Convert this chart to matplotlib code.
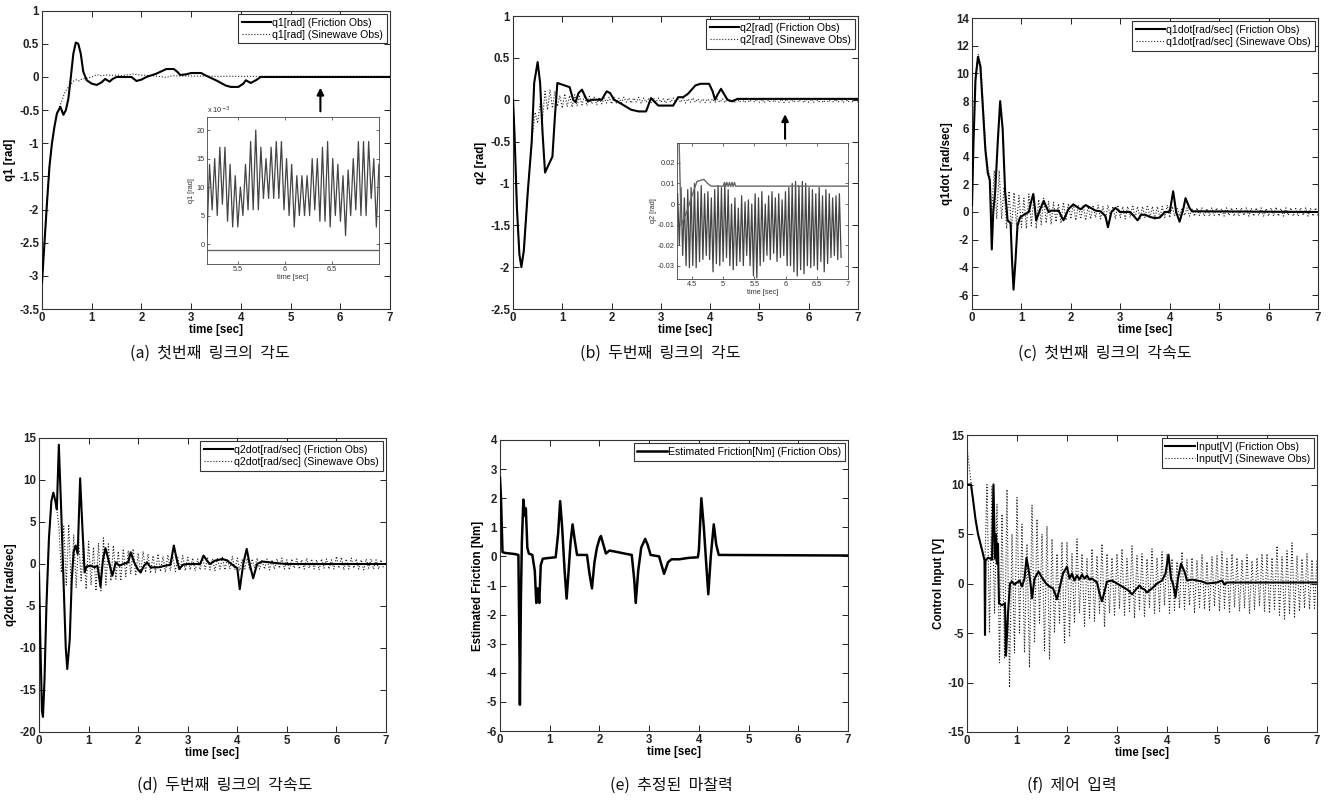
import numpy as np
import matplotlib
matplotlib.use('Agg')
import matplotlib.pyplot as plt
from matplotlib.ticker import FuncFormatter

plt.rcParams['font.family'] = ['Liberation Sans', 'DejaVu Sans']
plt.rcParams['axes.unicode_minus'] = False

# ---------------- data ----------------
# (a) q1
q1_fr_t = [0, 0.05, 0.1, 0.15, 0.2, 0.25, 0.3, 0.37, 0.43, 0.48, 0.53, 0.58, 0.63, 0.68, 0.73, 0.78, 0.83,
           0.9, 1.0, 1.1, 1.2, 1.27, 1.36, 1.42, 1.5, 1.8, 1.9, 2.0, 2.1, 2.3, 2.5, 2.65, 2.72, 2.78, 2.9,
           3.0, 3.2, 3.3, 3.5, 3.7, 3.8, 3.95, 4.05, 4.1, 4.2, 4.3, 4.4, 7.0]
q1_fr_v = [-3.1, -2.5, -1.9, -1.35, -1.0, -0.75, -0.55, -0.45, -0.57, -0.5, -0.33, 0.0, 0.35, 0.52, 0.5, 0.35,
           0.08, -0.05, -0.1, -0.12, -0.08, -0.03, -0.07, -0.03, 0.0, 0.0, -0.06, -0.04, 0.0, 0.05, 0.12,
           0.12, 0.08, 0.03, 0.04, 0.06, 0.06, 0.02, -0.05, -0.13, -0.15, -0.15, -0.1, -0.05, -0.09, -0.05,
           0.0, 0.0]
q1_sw_t = [0, 0.05, 0.1, 0.15, 0.2, 0.25, 0.3, 0.35, 0.4, 0.45, 0.5, 0.56, 0.63, 0.7, 0.75, 0.8, 0.9,
           1.0, 1.1, 1.2, 1.3, 1.4, 1.5, 1.6, 1.7, 1.84, 1.97, 2.2, 2.5, 2.64, 2.8, 3.0, 3.5, 4.0, 5.0,
           6.0, 7.0]
q1_sw_v = [-3.1, -2.5, -1.9, -1.35, -1.0, -0.75, -0.55, -0.45, -0.36, -0.25, -0.18, -0.13, -0.065, -0.04,
           -0.06, -0.03, -0.02, 0.0, 0.035, 0.02, 0.03, 0.025, 0.03, 0.02, 0.03, 0.045, 0.03, 0.02,
           -0.005, 0.02, 0.015, 0.015, 0.01, 0.01, 0.01, 0.01, 0.01]
# (a) inset, x10^-3
q1_in_t0, q1_in_dt = 5.17, 0.0273
q1_in_sw = [1.5, 14, 6, 15, 5, 17, 7, 17, 4, 14, 3, 12, 3, 10, 5, 14, 6, 18, 6, 20, 6, 17, 8, 15, 8, 17,
            8, 18, 8, 18, 6, 15, 5, 14, 3, 12, 5, 12, 5, 12, 5, 15, 6, 15, 4, 17, 4, 18, 3, 15, 5, 14,
            4, 12, 1.5, 13, 5, 15, 6, 18, 5, 18, 5, 18, 8, 15, 3, 14]
q1_in_fr_t = [5.17, 7.0]
q1_in_fr_v = [-1.05, -1.05]

# (b) q2
q2_fr_t = [0, 0.03, 0.08, 0.13, 0.17, 0.22, 0.3, 0.38, 0.43, 0.5, 0.55, 0.6, 0.65, 0.72, 0.8, 0.85, 0.9,
           1.0, 1.15, 1.22, 1.27, 1.33, 1.4, 1.47, 1.52, 1.6, 1.8, 1.9, 1.97, 2.05, 2.2, 2.4, 2.55, 2.7,
           2.8, 2.88, 2.95, 3.1, 3.25, 3.35, 3.45, 3.55, 3.7, 3.8, 3.98, 4.05, 4.1, 4.15, 4.22, 4.3, 4.35,
           4.45, 4.55, 7.0]
q2_fr_v = [0.0, -0.4, -1.3, -1.85, -2.0, -1.8, -1.1, -0.5, 0.2, 0.45, 0.2, -0.4, -0.87, -0.78, -0.68,
           -0.2, 0.2, 0.18, 0.15, 0.0, -0.03, 0.08, 0.12, 0.03, -0.02, 0.0, 0.0, 0.1, 0.08, 0.0, -0.05,
           -0.12, -0.14, -0.14, 0.02, -0.03, -0.07, -0.07, -0.07, 0.03, 0.03, 0.07, 0.17, 0.19, 0.19, 0.1,
           0.0, 0.06, 0.13, 0.05, 0.0, -0.02, 0.01, 0.01]
q2_sw_pre_t = [0, 0.03, 0.08, 0.13, 0.17, 0.22, 0.3, 0.38, 0.42]
q2_sw_pre_v = [0.0, -0.4, -1.3, -1.85, -2.0, -1.8, -1.1, -0.5, -0.3]
q2_sw_t0, q2_sw_dt = 0.45, 0.05
q2_sw_osc = [-0.15, -0.28, -0.05, -0.22, 0.1, -0.12, 0.12, -0.1, 0.1, -0.08,
             0.05, -0.1, 0.07, -0.08, 0.05, -0.09, 0.06, -0.07, 0.04, -0.06,
             0.05, -0.07, 0.04, -0.05, 0.03, -0.06, 0.03, -0.05, 0.02, -0.04,
             0.03, -0.05, 0.03, -0.04, 0.02, -0.04, 0.03, -0.03, 0.02, -0.04,
             0.02, -0.03, 0.03, -0.04, 0.02, -0.03, 0.01, -0.04, 0.02, -0.03,
             0.02, -0.03, 0.01, -0.04, 0.02, -0.03, 0.02, -0.03, 0.01, -0.03,
             0.02, -0.04, 0.01, -0.03, 0.02, -0.03, 0.01, -0.03, 0.01, -0.035,
             0.01, -0.03, 0.01, -0.03, 0.005, -0.03, 0.01, -0.035, 0.01, -0.03,
             0.005, -0.03, 0.01, -0.03, 0.01, -0.035, 0.005, -0.03, 0.01, -0.03,
             0.01, -0.03, 0.005, -0.035, 0.01, -0.03, 0.01, -0.03, 0.005, -0.03,
             0.01, -0.035, 0.01, -0.03, 0.005, -0.03, 0.01, -0.03, 0.01, -0.035,
             0.005, -0.03, 0.01, -0.03, 0.01, -0.03, 0.005, -0.035, 0.01, -0.03,
             0.01, -0.03, 0.005, -0.03, 0.01, -0.035, 0.01, -0.03, 0.005, -0.03,
             0.01, -0.03]
# (b) inset
q2_in_t0, q2_in_dt = 4.27, 0.027
q2_in_sw = [0.005, -0.02, 0.008, -0.025, 0.003, -0.03, 0.007, -0.031, 0.008, -0.03, 0.01, -0.031,
            0.006, -0.028, 0.009, -0.027, 0.005, -0.025, 0.006, -0.027, 0.003, -0.033, 0.007, -0.029,
            0.009, -0.03, 0.008, -0.028, 0.01, -0.026, 0.007, -0.03, 0.0, -0.032, 0.003, -0.03,
            -0.002, -0.028, 0.004, -0.03, 0.001, -0.025, 0.002, -0.03, 0.0, -0.035, 0.005, -0.036,
            0.003, -0.03, 0.006, -0.028, 0.0, -0.025, 0.004, -0.027, 0.006, -0.024, 0.003, -0.028,
            0.005, -0.026, 0.002, -0.025, 0.006, -0.03, 0.008, -0.03, 0.01, -0.033, 0.011, -0.035,
            0.009, -0.032, 0.011, -0.034, 0.01, -0.03, 0.008, -0.031, 0.007, -0.03, 0.005, -0.032,
            0.008, -0.028, 0.004, -0.033, 0.007, -0.029, 0.005, -0.026, 0.003, -0.025, 0.004, -0.027,
            0.005, -0.026]
q2_in_fr_t = [4.29, 4.31, 4.33, 4.42, 4.5, 4.58, 4.69, 4.77, 4.81, 5.0, 5.02, 5.04, 5.06, 5.08, 5.1,
              5.12, 5.14, 5.16, 5.18, 5.2, 7.0]
q2_in_fr_v = [0.035, 0.01, -0.01, -0.0035, 0.004, 0.011, 0.012, 0.0095, 0.0087, 0.0087, 0.0105, 0.0085,
              0.0105, 0.0085, 0.0105, 0.0085, 0.0105, 0.0085, 0.0105, 0.0087, 0.0087]

# (c) q1dot
q1d_fr_t = [0, 0.03, 0.07, 0.12, 0.17, 0.22, 0.27, 0.32, 0.36, 0.38, 0.4, 0.43, 0.47, 0.52, 0.57, 0.62,
            0.67, 0.72, 0.78, 0.81, 0.84, 0.88, 0.92, 0.97, 1.05, 1.15, 1.2, 1.24, 1.3, 1.38, 1.45, 1.55,
            1.6, 1.75, 1.85, 1.95, 2.05, 2.15, 2.2, 2.3, 2.4, 2.5, 2.6, 2.7, 2.75, 2.82, 2.9, 3.0, 3.2,
            3.3, 3.35, 3.42, 3.5, 3.6, 3.7, 3.8, 3.9, 4.0, 4.07, 4.13, 4.2, 4.28, 4.32, 4.4, 4.45, 7.0]
q1d_fr_v = [0.5, 5.0, 9.5, 11.2, 10.5, 7.5, 4.5, 2.8, 2.3, 0.0, -2.7, 0.0, 1.5, 5.0, 8.0, 6.0, 1.5,
            -0.6, -0.8, -3.5, -5.6, -3.5, -1.0, -0.4, -0.2, 0.0, 0.8, 1.3, -0.6, 0.2, 0.8, 0.0, 0.1,
            0.1, -0.6, 0.2, 0.55, 0.3, 0.2, 0.5, 0.3, 0.1, 0.05, -0.3, -1.1, 0.0, 0.3, 0.0, 0.0, -0.4,
            -0.6, -0.2, -0.2, -0.35, -0.45, -0.4, 0.0, 0.0, 1.5, 0.0, -0.7, 0.3, 1.0, 0.3, 0.05, 0.0]
q1d_sw_pre_t = [0, 0.03, 0.07, 0.13, 0.18, 0.23, 0.28, 0.33, 0.36]
q1d_sw_pre_v = [0.5, 5.5, 10.0, 11.4, 10.5, 7.5, 4.5, 3.0, 2.6]
q1d_sw_t0, q1d_sw_dt = 0.40, 0.05
q1d_sw_osc = [0.0, 3.0, -0.5, 3.0, -0.5, 1.8, -1.2, 1.5, -1.3, 1.4,
              -1.0, 1.2, -1.1, 1.0, -1.2, 1.3, -1.0, 1.1, -1.2, 0.9,
              -0.9, 1.0, -0.8, 0.8, -0.9, 0.7, -0.7, 0.6, -0.8, 0.7,
              -0.6, 0.6, -0.5, 0.6, -0.6, 0.5, -0.5, 0.5, -0.6, 0.4,
              -0.5, 0.5, -0.4, 0.5, -0.5, 0.4, -0.5, 0.5, -0.4, 0.4,
              -0.5, 0.5, -0.4, 0.4, -0.5, 0.4, -0.4, 0.5, -0.4, 0.4,
              -0.5, 0.4, -0.4, 0.5, -0.4, 0.4, -0.5, 0.4, -0.4, 0.4,
              -0.4, 0.5, -0.4, 0.4, -0.3, 0.3, -0.3, 0.3, -0.25, 0.3,
              -0.3, 0.25, -0.3, 0.3, -0.25, 0.3, -0.3, 0.25, -0.3, 0.3,
              -0.25, 0.3, -0.3, 0.25, -0.3, 0.3, -0.25, 0.3, -0.3, 0.25,
              -0.3, 0.3, -0.25, 0.3, -0.3, 0.25, -0.3, 0.3, -0.25, 0.3,
              -0.3, 0.25, -0.3, 0.3, -0.3, 0.35, -0.3, 0.25, -0.3, 0.3,
              -0.25, 0.3, -0.3, 0.25, -0.3, 0.3, -0.25, 0.3, -0.3, 0.25,
              -0.3, 0.3, -0.25]

# (d) q2dot
q2d_fr_t = [0, 0.03, 0.06, 0.08, 0.11, 0.15, 0.2, 0.25, 0.29, 0.33, 0.36, 0.4, 0.45, 0.5, 0.54, 0.57,
            0.62, 0.66, 0.7, 0.74, 0.78, 0.83, 0.87, 0.92, 0.96, 1.05, 1.12, 1.18, 1.24, 1.29, 1.34, 1.4,
            1.48, 1.55, 1.62, 1.7, 1.8, 1.85, 1.92, 2.0, 2.05, 2.12, 2.18, 2.25, 2.4, 2.55, 2.65, 2.72,
            2.78, 2.83, 2.9, 3.0, 3.25, 3.32, 3.4, 3.45, 3.55, 3.7, 3.8, 3.88, 3.95, 4.0, 4.05, 4.12,
            4.19, 4.25, 4.32, 4.4, 4.5, 4.8, 5.0, 7.0]
q2d_fr_v = [-1.0, -10.0, -17.5, -18.2, -14.0, -5.0, 3.0, 7.5, 8.5, 7.5, 6.5, 14.2, 6.0, -3.0, -10.0,
            -12.5, -9.0, -2.0, 1.5, 2.2, 1.2, 10.2, 5.0, -1.0, -0.3, -0.2, -0.4, -0.2, -2.7, 0.5, 1.9,
            0.5, -1.4, 0.2, -0.2, 0.0, 0.2, 1.4, 0.2, -0.7, -1.0, -0.2, 0.2, -0.4, -0.4, -0.2, -0.1, 2.2,
            0.5, -0.6, -0.1, 0.0, 0.0, 1.0, 0.3, 0.0, 0.4, 0.6, 0.4, 0.0, -0.3, -0.5, -3.0, 0.0, 1.8,
            0.0, -1.7, 0.0, 0.3, 0.1, 0.0, 0.0]
q2d_sw_pre_t = [0, 0.03, 0.06, 0.08, 0.11, 0.15, 0.2, 0.25, 0.29, 0.33, 0.37, 0.40]
q2d_sw_pre_v = [-1.0, -10.0, -17.5, -18.0, -14.0, -5.0, 3.0, 7.5, 8.5, 7.5, 6.0, 4.5]
q2d_sw_t0, q2d_sw_dt = 0.45, 0.05
q2d_sw_osc = [-1.0, 4.5, -2.5, 4.7, -3.0, 3.5, -2.8, 3.0, -2.0, 2.5,
              -3.0, 2.7, -2.5, 2.0, -3.2, 2.5, -3.2, 3.1, -2.5, 2.4,
              -2.0, 2.2, -1.8, 1.5, -2.0, 1.8, -1.5, 1.6, -1.2, 1.8,
              -1.4, 1.3, -1.2, 1.5, -1.0, 1.2, -1.1, 1.0, -1.0, 1.2,
              -0.9, 0.9, -1.0, 1.1, -0.8, 0.9, -0.9, 0.8, -0.7, 1.0,
              -0.8, 0.8, -0.7, 0.7, -0.8, 0.6, -0.7, 0.8, -0.6, 0.7,
              -0.7, 0.6, -0.8, 0.7, -0.6, 0.8, -0.7, 0.6, -0.6, 0.9,
              -0.7, 0.7, -0.8, 0.6, -0.6, 0.7, -0.7, 0.6, -0.5, 0.7,
              -0.6, 0.5, -0.6, 0.6, -0.7, 0.5, -0.6, 0.6, -0.5, 0.7,
              -0.6, 0.5, -0.7, 0.6, -0.5, 0.6, -0.6, 0.5, -0.6, 0.7,
              -0.5, 0.6, -0.6, 0.5, -0.7, 0.6, -0.5, 0.6, -0.6, 0.5,
              -0.6, 0.9, -0.5, 0.8, -0.7, 0.6, -0.6, 0.7, -0.5, 0.6,
              -0.6, 0.5, -0.7, 0.6, -0.5, 0.6, -0.6, 0.5, -0.6, 0.5,
              -0.5]

# (e) estimated friction
fe_t = [0, 0.02, 0.05, 0.1, 0.2, 0.3, 0.37, 0.39, 0.4, 0.42, 0.44, 0.47, 0.5, 0.52, 0.55, 0.58, 0.65,
        0.7, 0.73, 0.76, 0.79, 0.82, 0.86, 1.0, 1.12, 1.17, 1.21, 1.25, 1.3, 1.34, 1.38, 1.42, 1.46, 1.5,
        1.55, 1.75, 1.8, 1.85, 1.9, 1.95, 2.0, 2.03, 2.08, 2.13, 2.2, 2.3, 2.5, 2.65, 2.7, 2.73, 2.78,
        2.84, 2.92, 2.97, 3.03, 3.2, 3.25, 3.3, 3.38, 3.45, 3.6, 3.8, 3.98, 4.0, 4.05, 4.1, 4.15, 4.19,
        4.24, 4.3, 4.35, 4.4, 7.0]
fe_v = [2.7, 2.0, 0.15, 0.12, 0.1, 0.08, 0.05, -3.0, -5.1, -1.5, 0.5, 1.95, 1.4, 1.65, 0.3, 0.1, 0.05,
        -0.5, -1.6, -1.1, -1.6, -0.3, -0.08, -0.05, -0.03, 0.8, 1.9, 1.0, -0.5, -1.45, -0.5, 0.5, 1.1,
        0.6, 0.05, 0.05, -0.6, -1.1, -0.2, 0.3, 0.6, 0.7, 0.4, 0.1, 0.2, 0.17, 0.1, 0.05, -0.8, -1.6,
        -0.5, 0.3, 0.6, 0.4, 0.05, 0.0, -0.3, -0.6, -0.2, -0.1, -0.1, -0.05, -0.03, 0.2, 2.0, 1.0, -0.3,
        -1.3, 0.0, 1.1, 0.4, 0.05, 0.03]

# (f) control input
u_fr_t = [0, 0.08, 0.12, 0.17, 0.22, 0.27, 0.32, 0.35, 0.36, 0.37, 0.42, 0.48, 0.5, 0.53, 0.56, 0.58,
          0.6, 0.62, 0.64, 0.7, 0.76, 0.78, 0.82, 0.86, 0.9, 0.95, 1.0, 1.05, 1.1, 1.15, 1.19, 1.23, 1.27,
          1.3, 1.35, 1.43, 1.5, 1.58, 1.65, 1.72, 1.76, 1.8, 1.85, 1.92, 2.0, 2.05, 2.1, 2.15, 2.2, 2.25,
          2.3, 2.35, 2.4, 2.45, 2.5, 2.55, 2.6, 2.65, 2.7, 2.75, 2.8, 2.9, 3.0, 3.1, 3.2, 3.25, 3.3, 3.38,
          3.45, 3.5, 3.55, 3.6, 3.7, 3.8, 3.9, 3.97, 4.03, 4.08, 4.12, 4.17, 4.22, 4.28, 4.35, 4.4, 4.5,
          4.7, 4.8, 5.0, 5.1, 5.15, 5.2, 7.0]
u_fr_v = [10.0, 10.0, 8.5, 6.5, 5.0, 4.0, 3.0, 2.3, -5.2, 2.3, 2.6, 2.5, 2.4, 10.0, 2.5, 5.0, 2.0, 4.0,
          -2.0, -2.2, -2.0, -7.3, -3.0, 0.0, 0.2, -0.1, 0.1, 0.3, -0.3, 0.5, 2.6, 1.5, 0.0, -1.5, 0.5,
          1.2, 0.6, 0.0, -0.3, -0.5, -1.0, -1.6, -0.5, 1.0, 1.7, 0.5, 1.0, 0.3, 0.8, 0.4, 0.9, 0.5, 0.8,
          0.4, 0.5, 0.3, 0.1, -1.0, -1.8, -0.8, 0.2, 0.3, 0.0, -0.3, -0.6, -0.8, -1.1, -0.6, -0.2, -0.5,
          -0.6, -0.9, -0.5, 0.0, 0.3, 1.0, 2.9, 0.5, 0.0, -1.4, 0.5, 2.0, 1.2, 0.3, 0.4, 0.2, 0.0, 0.1,
          0.3, -0.1, 0.1, 0.1]
u_sw_pre_t = [0, 0.04, 0.08, 0.12, 0.17, 0.22, 0.27, 0.32, 0.36]
u_sw_pre_v = [13.8, 12.0, 10.2, 8.5, 6.5, 5.0, 4.0, 3.0, 2.3]
u_sw_t0, u_sw_dt = 0.40, 0.05
u_sw_osc = [10.0, -5.0, 9.8, -3.0, 8.0, -8.0, 7.0, -7.5, 9.5, -10.5,
            5.0, -7.0, 8.7, -5.0, 6.0, -7.0, 4.0, -8.5, 7.9, -6.0,
            6.5, -4.0, 5.0, -6.8, 5.8, -7.7, 4.5, -5.0, 3.0, -4.0,
            4.2, -6.0, 4.2, -5.4, 3.0, -4.0, 4.5, -3.0, 3.0, -4.3,
            2.5, -3.5, 3.5, -3.8, 2.8, -3.0, 4.0, -4.4, 3.0, -3.0,
            2.6, -3.3, 3.0, -2.5, 3.5, -3.2, 2.5, -2.8, 3.8, -3.5,
            2.8, -2.6, 3.0, -3.3, 2.5, -2.4, 3.5, -3.0, 2.6, -2.8,
            3.2, -2.2, 3.0, -3.0, 2.5, -2.7, 2.2, -2.5, 3.2, -2.6,
            2.4, -2.2, 2.6, -3.0, 2.3, -2.4, 2.9, -2.6, 2.2, -2.8,
            2.7, -2.3, 2.8, -2.8, 3.2, -2.5, 2.5, -3.0, 3.0, -2.4,
            2.6, -2.8, 2.4, -2.5, 2.9, -3.0, 2.3, -2.6, 2.6, -2.2,
            3.0, -2.8, 3.0, -3.0, 2.6, -2.6, 3.8, -3.2, 2.7, -3.7,
            3.3, -3.0, 4.1, -3.5, 2.8, -2.8, 2.5, -2.5, 3.0, -2.6,
            2.4, -2.5, 2.5]

captions = ['(a)  첫번째  링크의  각도', '(b)  두번째  링크의  각도', '(c)  첫번째  링크의  각속도',
            '(d)  두번째  링크의  각속도', '(e)  추정된  마찰력', '(f)  제어  입력']

# ---------------- drawing ----------------
W, H = 1331, 807
fig = plt.figure(figsize=(W / 100, H / 100), dpi=100)
fig.patch.set_facecolor('white')


def rect(l, t, r, b):
    return [l / W, 1 - b / H, (r - l) / W, (b - t) / H]


def osc(pre_t, pre_v, t0, dt, vals):
    t = np.concatenate([np.asarray(pre_t, float), t0 + dt * np.arange(len(vals))])
    v = np.concatenate([np.asarray(pre_v, float), np.asarray(vals, float)])
    return t, v


fmt = FuncFormatter(lambda v, p: '%g' % v)
SOLID = dict(color='black', lw=1.5, zorder=3)
DOT = dict(color='#222222', lw=0.8, ls=':', zorder=2)


def style_main(ax, ylim, yticks, ylabel):
    ax.set_xlim(0, 7)
    ax.set_ylim(*ylim)
    ax.set_xticks(range(8))
    ax.set_yticks(yticks)
    ax.xaxis.set_major_formatter(fmt)
    ax.yaxis.set_major_formatter(fmt)
    ax.tick_params(direction='in', top=True, right=True, length=4.5, width=0.7,
                   labelsize=8.3, pad=2, colors='#222222')
    for lb in ax.get_xticklabels() + ax.get_yticklabels():
        lb.set_fontweight('bold')
    for s in ax.spines.values():
        s.set_linewidth(0.8)
        s.set_color('#333333')
    ax.set_xlabel('time [sec]', fontsize=8.3, fontweight='bold', labelpad=0.5)
    ax.set_ylabel(ylabel, fontsize=8.3, fontweight='bold', labelpad=2)


def legend(ax):
    lg = ax.legend(loc='upper right', fontsize=7.6, frameon=True, fancybox=False, edgecolor='#333333',
                   handlelength=2.8, borderpad=0.35, labelspacing=0.2, handletextpad=0.1,
                   borderaxespad=0.3, framealpha=1)
    lg.get_frame().set_linewidth(0.8)


def style_inset(ax, xlim, ylim, xticks, yticks, ylabel):
    ax.set_xlim(*xlim)
    ax.set_ylim(*ylim)
    ax.set_xticks(xticks)
    ax.set_yticks(yticks)
    ax.xaxis.set_major_formatter(fmt)
    ax.yaxis.set_major_formatter(fmt)
    ax.tick_params(direction='in', top=True, right=True, length=2.5, width=0.5,
                   labelsize=5.3, pad=1.5, colors='#333333')
    for s in ax.spines.values():
        s.set_linewidth(0.6)
        s.set_color('#444444')
    ax.set_xlabel('time [sec]', fontsize=5.3, labelpad=0.5, color='#333333')
    ax.set_ylabel(ylabel, fontsize=5.3, labelpad=1, color='#333333')


# (a)
ax = fig.add_axes(rect(42, 10.7, 390, 309))
ax.plot(q1_fr_t, q1_fr_v, label='q1[rad] (Friction Obs)', **SOLID)
ax.plot(q1_sw_t, q1_sw_v, label='q1[rad] (Sinewave Obs)', **DOT)
style_main(ax, (-3.5, 1), np.arange(-3.5, 1.01, 0.5), 'q1 [rad]')
legend(ax)
ax.annotate('', xy=(5.6, -0.12), xytext=(5.6, -0.56),
            arrowprops=dict(arrowstyle='-|>', color='black', lw=1.5, mutation_scale=10))
axi = fig.add_axes(rect(207, 117, 379, 264))
ti = q1_in_t0 + q1_in_dt * np.arange(len(q1_in_sw))
axi.plot(ti, q1_in_sw, color='#444444', lw=0.9)
axi.plot(q1_in_fr_t, q1_in_fr_v, color='#666666', lw=1.0)
style_inset(axi, (5.17, 7.0), (-3.5, 22.3), [5.5, 6, 6.5], [0, 5, 10, 15, 20], 'q1 [rad]')
axi.text(0.0, 1.01, 'x 10$^{-3}$', transform=axi.transAxes, fontsize=5.3, va='bottom', color='#333333')

# (b)
ax = fig.add_axes(rect(513, 16, 858, 309))
ax.plot(q2_fr_t, q2_fr_v, label='q2[rad] (Friction Obs)', **SOLID)
t, v = osc(q2_sw_pre_t, q2_sw_pre_v, q2_sw_t0, q2_sw_dt, q2_sw_osc)
ax.plot(t, v, label='q2[rad] (Sinewave Obs)', **DOT)
style_main(ax, (-2.5, 1), np.arange(-2.5, 1.01, 0.5), 'q2 [rad]')
legend(ax)
ax.annotate('', xy=(5.52, -0.14), xytext=(5.52, -0.5),
            arrowprops=dict(arrowstyle='-|>', color='black', lw=1.5, mutation_scale=10))
axi = fig.add_axes(rect(677, 143, 848, 279))
ti = q2_in_t0 + q2_in_dt * np.arange(len(q2_in_sw))
axi.plot(ti, q2_in_sw, color='#444444', lw=0.9)
axi.plot(q2_in_fr_t, q2_in_fr_v, color='#666666', lw=1.0)
style_inset(axi, (4.26, 7.0), (-0.0365, 0.0297), [4.5, 5, 5.5, 6, 6.5, 7],
            [-0.03, -0.02, -0.01, 0, 0.01, 0.02], 'q2 [rad]')

# (c)
ax = fig.add_axes(rect(972, 18, 1318, 309))
ax.plot(q1d_fr_t, q1d_fr_v, label='q1dot[rad/sec] (Friction Obs)', **SOLID)
t, v = osc(q1d_sw_pre_t, q1d_sw_pre_v, q1d_sw_t0, q1d_sw_dt, q1d_sw_osc)
ax.plot(t, v, label='q1dot[rad/sec] (Sinewave Obs)', **DOT)
style_main(ax, (-7, 14), np.arange(-6, 14.1, 2), 'q1dot [rad/sec]')
legend(ax)

# (d)
ax = fig.add_axes(rect(39, 438, 386, 732))
ax.plot(q2d_fr_t, q2d_fr_v, label='q2dot[rad/sec] (Friction Obs)', **SOLID)
t, v = osc(q2d_sw_pre_t, q2d_sw_pre_v, q2d_sw_t0, q2d_sw_dt, q2d_sw_osc)
ax.plot(t, v, label='q2dot[rad/sec] (Sinewave Obs)', **DOT)
style_main(ax, (-20, 15), np.arange(-20, 15.1, 5), 'q2dot [rad/sec]')
legend(ax)

# (e)
ax = fig.add_axes(rect(500, 440, 848, 731))
ax.plot(fe_t, fe_v, label='Estimated Friction[Nm] (Friction Obs)', color='black', lw=1.8, zorder=3)
style_main(ax, (-6, 4), np.arange(-6, 4.1, 1), 'Estimated Friction [Nm]')
legend(ax)

# (f)
ax = fig.add_axes(rect(967, 435, 1317, 732))
ax.plot(u_fr_t, u_fr_v, label='Input[V] (Friction Obs)', **SOLID)
t, v = osc(u_sw_pre_t, u_sw_pre_v, u_sw_t0, u_sw_dt, u_sw_osc)
ax.plot(t, v, label='Input[V] (Sinewave Obs)', **DOT)
style_main(ax, (-15, 15), np.arange(-15, 15.1, 5), 'Control Input [V]')
legend(ax)

# captions
cap_pos = [(210, 353), (660, 353), (1105, 353), (225, 785), (671, 785), (1072, 785)]
for (x, y), c in zip(cap_pos, captions):
    fig.text(x / W, 1 - y / H, c, ha='center', va='center', fontsize=11.5,
             family=['Noto Sans CJK KR', 'DejaVu Sans'], color='#111111')

fig.savefig('out.png', dpi=100, facecolor='white')
